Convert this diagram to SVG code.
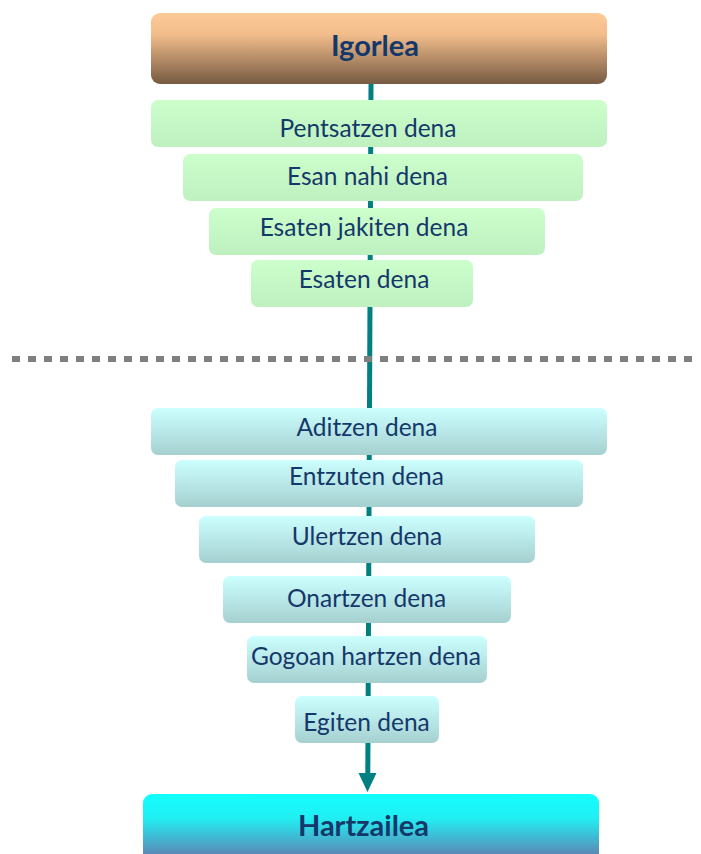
<svg xmlns="http://www.w3.org/2000/svg" width="701" height="854" viewBox="0 0 701 854">
  <style>
    .lbl { font-family: Lato, "Open Sans", "Liberation Sans", sans-serif; font-size: 24.5px; fill: #14386a; text-anchor: middle; }
    .ttl { font-family: Lato, "Open Sans", "Liberation Sans", sans-serif; font-size: 29px; font-weight: bold; fill: #14386a; text-anchor: middle; }
    .green { fill: url(#gGreen); }
    .cyan { fill: url(#gCyan); }
    .flow { stroke: #008080; stroke-width: 5; fill: none; }
    .divider { stroke: #808080; stroke-width: 6; stroke-dasharray: 8 8; }
  </style>
  <defs>
    <linearGradient id="gSender" x1="0" y1="0" x2="0" y2="1">
      <stop offset="0" stop-color="#fdca96"/>
      <stop offset="0.3" stop-color="#f2bd8b"/>
      <stop offset="1" stop-color="#765a42"/>
    </linearGradient>
    <linearGradient id="gReceiver" x1="0" y1="0" x2="0" y2="1">
      <stop offset="0" stop-color="#11ffff"/>
      <stop offset="0.35" stop-color="#22eef2"/>
      <stop offset="1" stop-color="#6a6ea6"/>
    </linearGradient>
    <linearGradient id="gGreen" x1="0" y1="0" x2="0" y2="1">
      <stop offset="0" stop-color="#ccffcc"/>
      <stop offset="1" stop-color="#bff0c0"/>
    </linearGradient>
    <linearGradient id="gCyan" x1="0" y1="0" x2="0" y2="1">
      <stop offset="0" stop-color="#ccffff"/>
      <stop offset="1" stop-color="#a6d0d0"/>
    </linearGradient>
  </defs>

  <!-- main flow connector with its arrowhead -->
  <g id="connectors">
    <line class="flow" x1="371" y1="84" x2="367.8" y2="773"/>
    <path d="M358.5,773 L376.5,773 L367.5,792 Z" fill="#008080"/>
  </g>

  <!-- sender / receiver split -->
  <line class="divider" x1="12" y1="359" x2="696" y2="359"/>

  <g id="igorlea">
    <rect x="151" y="13" width="456" height="71" rx="9" fill="url(#gSender)"/>
    <text class="ttl" x="375" y="56">Igorlea</text>
  </g>

  <g id="pentsatzen">
    <rect class="green" x="151" y="100" width="456" height="47" rx="7"/>
    <text class="lbl" x="368" y="137">Pentsatzen dena</text>
  </g>
  <g id="esan-nahi">
    <rect class="green" x="183" y="154" width="400" height="47" rx="7"/>
    <text class="lbl" x="367.5" y="185">Esan nahi dena</text>
  </g>
  <g id="esaten-jakiten">
    <rect class="green" x="209" y="208" width="336" height="47" rx="7"/>
    <text class="lbl" x="364" y="236">Esaten jakiten dena</text>
  </g>
  <g id="esaten">
    <rect class="green" x="251" y="260" width="222" height="47" rx="7"/>
    <text class="lbl" x="364" y="288">Esaten dena</text>
  </g>

  <g id="aditzen">
    <rect class="cyan" x="151" y="408" width="456" height="47" rx="7"/>
    <text class="lbl" x="367" y="436">Aditzen dena</text>
  </g>
  <g id="entzuten">
    <rect class="cyan" x="175" y="460" width="408" height="47" rx="7"/>
    <text class="lbl" x="366.5" y="485">Entzuten dena</text>
  </g>
  <g id="ulertzen">
    <rect class="cyan" x="199" y="516" width="336" height="47" rx="7"/>
    <text class="lbl" x="367" y="545">Ulertzen dena</text>
  </g>
  <g id="onartzen">
    <rect class="cyan" x="223" y="576" width="288" height="47" rx="7"/>
    <text class="lbl" x="366.5" y="607">Onartzen dena</text>
  </g>
  <g id="gogoan">
    <rect class="cyan" x="247" y="636" width="240" height="47" rx="7"/>
    <text class="lbl" x="366" y="665">Gogoan hartzen dena</text>
  </g>
  <g id="egiten">
    <rect class="cyan" x="295" y="696" width="144" height="47" rx="7"/>
    <text class="lbl" x="366.5" y="731">Egiten dena</text>
  </g>

  <g id="hartzailea">
    <rect x="143" y="794" width="456" height="70" rx="9" fill="url(#gReceiver)"/>
    <text class="ttl" x="363.5" y="836">Hartzailea</text>
  </g>
</svg>
